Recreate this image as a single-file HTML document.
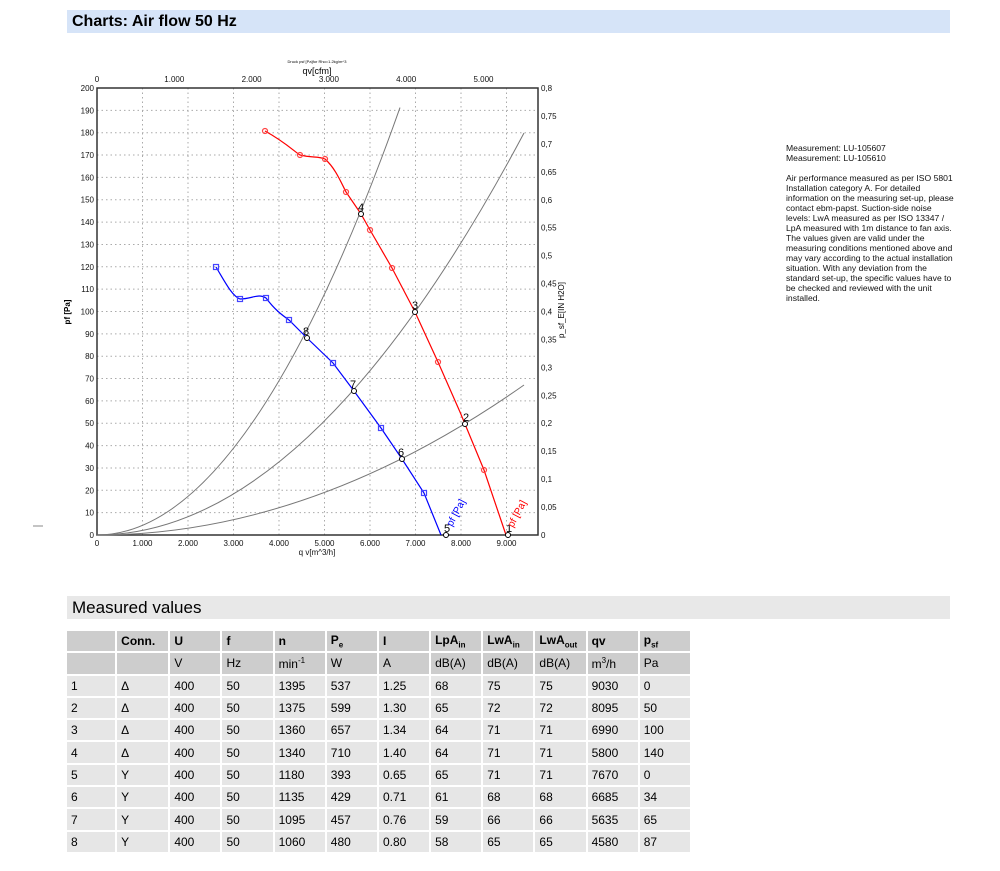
<!DOCTYPE html>
<html><head><meta charset="utf-8"><style>
body{margin:0;background:#fff;width:1000px;height:871px;position:relative;font-family:"Liberation Sans",sans-serif;overflow:hidden}
.bar{position:absolute;left:67px;width:883px;height:23px}
#h1{top:10px;background:#d6e4f8;font-weight:bold;font-size:16px;line-height:23px;padding-left:5px;box-sizing:border-box}
#h2{top:596px;background:#e8e8e8;font-size:17px;line-height:23px;padding-left:5px;box-sizing:border-box}
#note{position:absolute;left:786px;top:143px;font-size:8.6px;line-height:10px;width:172px;color:#111}
table{position:absolute;left:65px;top:629px;width:627px;border-collapse:separate;border-spacing:2px;font-size:12px;table-layout:fixed}
td{height:20.3px;padding:0 0 0 4px;background:#e6e6e6;vertical-align:middle;white-space:nowrap;box-sizing:border-box}
tr.h td{background:#cdcdcd}
tr.b td{font-weight:bold}
sub,sup{font-size:8px}
</style></head><body>
<div id="h1" class="bar">Charts: Air flow 50 Hz</div>
<svg width="1000" height="590" style="position:absolute;left:0;top:0" font-family="Liberation Sans, sans-serif">
<line x1="33" y1="526" x2="43" y2="526" stroke="#888"/>
<text x="317" y="63" font-size="4" text-anchor="middle">Druck psf [Pa]for Rho=1.2kg/m^3</text>
<text x="317" y="74" font-size="9" text-anchor="middle">qv[cfm]</text>
<g stroke="#aaa" stroke-dasharray="1.5,3" stroke-width="1">
<line x1="142.5" y1="88" x2="142.5" y2="535"/><line x1="188" y1="88" x2="188" y2="535"/><line x1="233.5" y1="88" x2="233.5" y2="535"/><line x1="279" y1="88" x2="279" y2="535"/><line x1="324.5" y1="88" x2="324.5" y2="535"/><line x1="370" y1="88" x2="370" y2="535"/><line x1="415.5" y1="88" x2="415.5" y2="535"/><line x1="461" y1="88" x2="461" y2="535"/><line x1="506.5" y1="88" x2="506.5" y2="535"/>
<line x1="97" y1="512.65" x2="538" y2="512.65"/><line x1="97" y1="490.3" x2="538" y2="490.3"/><line x1="97" y1="467.95" x2="538" y2="467.95"/><line x1="97" y1="445.6" x2="538" y2="445.6"/><line x1="97" y1="423.25" x2="538" y2="423.25"/><line x1="97" y1="400.9" x2="538" y2="400.9"/><line x1="97" y1="378.55" x2="538" y2="378.55"/><line x1="97" y1="356.2" x2="538" y2="356.2"/><line x1="97" y1="333.85" x2="538" y2="333.85"/><line x1="97" y1="311.5" x2="538" y2="311.5"/><line x1="97" y1="289.15" x2="538" y2="289.15"/><line x1="97" y1="266.8" x2="538" y2="266.8"/><line x1="97" y1="244.45" x2="538" y2="244.45"/><line x1="97" y1="222.1" x2="538" y2="222.1"/><line x1="97" y1="199.75" x2="538" y2="199.75"/><line x1="97" y1="177.4" x2="538" y2="177.4"/><line x1="97" y1="155.05" x2="538" y2="155.05"/><line x1="97" y1="132.7" x2="538" y2="132.7"/><line x1="97" y1="110.35" x2="538" y2="110.35"/>
</g>
<rect x="97" y="88" width="441" height="447" fill="none" stroke="#333" stroke-width="1.5"/>
<g font-size="8" text-anchor="end" fill="#111">
<text x="94" y="538">0</text><text x="94" y="515.6">10</text><text x="94" y="493.3">20</text><text x="94" y="471">30</text><text x="94" y="448.6">40</text><text x="94" y="426.2">50</text><text x="94" y="403.9">60</text><text x="94" y="381.5">70</text><text x="94" y="359.2">80</text><text x="94" y="336.8">90</text><text x="94" y="314.5">100</text><text x="94" y="292.1">110</text><text x="94" y="269.8">120</text><text x="94" y="247.4">130</text><text x="94" y="225.1">140</text><text x="94" y="202.7">150</text><text x="94" y="180.4">160</text><text x="94" y="158">170</text><text x="94" y="135.7">180</text><text x="94" y="113.3">190</text><text x="94" y="91">200</text>
</g>
<g font-size="8" fill="#111">
<text x="541" y="538">0</text><text x="541" y="510">0,05</text><text x="541" y="482.1">0,1</text><text x="541" y="454.2">0,15</text><text x="541" y="426.2">0,2</text><text x="541" y="398.3">0,25</text><text x="541" y="370.4">0,3</text><text x="541" y="342.4">0,35</text><text x="541" y="314.5">0,4</text><text x="541" y="286.6">0,45</text><text x="541" y="258.6">0,5</text><text x="541" y="230.7">0,55</text><text x="541" y="202.8">0,6</text><text x="541" y="174.8">0,65</text><text x="541" y="146.9">0,7</text><text x="541" y="119">0,75</text><text x="541" y="91">0,8</text>
</g>
<g font-size="8" text-anchor="middle" fill="#111">
<text x="97" y="546">0</text><text x="142.5" y="546">1.000</text><text x="188" y="546">2.000</text><text x="233.5" y="546">3.000</text><text x="279" y="546">4.000</text><text x="324.5" y="546">5.000</text><text x="370" y="546">6.000</text><text x="415.5" y="546">7.000</text><text x="461" y="546">8.000</text><text x="506.5" y="546">9.000</text>
<text x="317" y="555">q v[m^3/h]</text>
<text x="97" y="82">0</text><text x="174.3" y="82">1.000</text><text x="251.6" y="82">2.000</text><text x="328.9" y="82">3.000</text><text x="406.2" y="82">4.000</text><text x="483.5" y="82">5.000</text>
</g>
<text transform="translate(70,312) rotate(-90)" font-size="8" text-anchor="middle" font-weight="bold">pf [Pa]</text>
<text transform="translate(564,310) rotate(-90)" font-size="8" text-anchor="middle">p_sf_E[IN H2O]</text>
<g fill="none" stroke="#777" stroke-width="1">
<path d="M97,535 Q248.5,535 400,107.6"/>
<path d="M97,535 Q310.5,535 524,133"/>
<path d="M97,535 Q310.5,535 524,385"/>
</g>
<path d="M265,131 C285,142 295,152 300,155 C312,158 318,156 325,159 C335,168 340,180 346,192 L361,214 L370,230 L392,268 L415,312 L438,362 L460,412 L484,470 L506,535" fill="none" stroke="#f00" stroke-width="1.2"/>
<path d="M216,267 C225,282 232,296 240,299 C252,299 258,293 266,298 C275,310 282,315 289,320 L307,338 L333,363 L354,391 L381,428 L402,459 L424,493 L441,535" fill="none" stroke="#00f" stroke-width="1.2"/>
<g fill="none" stroke="#f44" stroke-width="1.2">
<circle cx="265" cy="131" r="2.5"/><circle cx="300" cy="155" r="2.5"/><circle cx="325" cy="159" r="2.5"/><circle cx="346" cy="192" r="2.5"/><circle cx="370" cy="230" r="2.5"/><circle cx="392" cy="268" r="2.5"/><circle cx="438" cy="362" r="2.5"/><circle cx="484" cy="470" r="2.5"/>
</g>
<g fill="none" stroke="#44f" stroke-width="1.2">
<rect x="213.5" y="264.5" width="5" height="5"/><rect x="237.5" y="296.5" width="5" height="5"/><rect x="263.5" y="295.5" width="5" height="5"/><rect x="286.5" y="317.5" width="5" height="5"/><rect x="330.5" y="360.5" width="5" height="5"/><rect x="378.5" y="425.5" width="5" height="5"/><rect x="421.5" y="490.5" width="5" height="5"/>
</g>
<g fill="#fff" stroke="#000" stroke-width="1">
<circle cx="361" cy="214" r="2.5"/><circle cx="415" cy="312" r="2.5"/><circle cx="465" cy="424" r="2.5"/><circle cx="508" cy="535" r="2.5"/>
<circle cx="307" cy="338" r="2.5"/><circle cx="354" cy="391" r="2.5"/><circle cx="402" cy="459" r="2.5"/><circle cx="446" cy="535" r="2.5"/>
</g>
<g font-size="11" text-anchor="middle" fill="#000">
<text x="361" y="211">4</text><text x="415" y="309">3</text><text x="466" y="421">2</text><text x="509" y="532">1</text>
<text x="306" y="335">8</text><text x="353" y="388">7</text><text x="401" y="456">6</text><text x="447" y="532">5</text>
</g>
<text transform="translate(452,527) rotate(-62)" font-size="10" fill="#00f">pf [Pa]</text>
<text transform="translate(513,528) rotate(-62)" font-size="10" fill="#f00">pf [Pa]</text>
</svg>
<div id="note">Measurement: LU-105607<br>Measurement: LU-105610<br><br>Air performance measured as per ISO 5801 Installation category A. For detailed information on the measuring set-up, please contact ebm-papst. Suction-side noise levels: LwA measured as per ISO 13347 / LpA measured with 1m distance to fan axis. The values given are valid under the measuring conditions mentioned above and may vary according to the actual installation situation. With any deviation from the standard set-up, the specific values have to be checked and reviewed with the unit installed.</div>
<div id="h2" class="bar">Measured values</div>
<table>
<colgroup><col style="width:48px"><col style="width:51px"><col style="width:50px"><col style="width:50px"><col style="width:50px"><col style="width:50px"><col style="width:50px"><col style="width:50px"><col style="width:50px"><col style="width:50px"><col style="width:50px"><col style="width:50px"></colgroup>
<tr class="h b"><td></td><td>Conn.</td><td>U</td><td>f</td><td>n</td><td>P<sub>e</sub></td><td>I</td><td>LpA<sub>in</sub></td><td>LwA<sub>in</sub></td><td>LwA<sub>out</sub></td><td>qv</td><td>p<sub>sf</sub></td></tr>
<tr class="h"><td></td><td></td><td>V</td><td>Hz</td><td>min<sup>-1</sup></td><td>W</td><td>A</td><td>dB(A)</td><td>dB(A)</td><td>dB(A)</td><td>m<sup>3</sup>/h</td><td>Pa</td></tr>
<tr><td>1</td><td>Δ</td><td>400</td><td>50</td><td>1395</td><td>537</td><td>1.25</td><td>68</td><td>75</td><td>75</td><td>9030</td><td>0</td></tr>
<tr><td>2</td><td>Δ</td><td>400</td><td>50</td><td>1375</td><td>599</td><td>1.30</td><td>65</td><td>72</td><td>72</td><td>8095</td><td>50</td></tr>
<tr><td>3</td><td>Δ</td><td>400</td><td>50</td><td>1360</td><td>657</td><td>1.34</td><td>64</td><td>71</td><td>71</td><td>6990</td><td>100</td></tr>
<tr><td>4</td><td>Δ</td><td>400</td><td>50</td><td>1340</td><td>710</td><td>1.40</td><td>64</td><td>71</td><td>71</td><td>5800</td><td>140</td></tr>
<tr><td>5</td><td>Y</td><td>400</td><td>50</td><td>1180</td><td>393</td><td>0.65</td><td>65</td><td>71</td><td>71</td><td>7670</td><td>0</td></tr>
<tr><td>6</td><td>Y</td><td>400</td><td>50</td><td>1135</td><td>429</td><td>0.71</td><td>61</td><td>68</td><td>68</td><td>6685</td><td>34</td></tr>
<tr><td>7</td><td>Y</td><td>400</td><td>50</td><td>1095</td><td>457</td><td>0.76</td><td>59</td><td>66</td><td>66</td><td>5635</td><td>65</td></tr>
<tr><td>8</td><td>Y</td><td>400</td><td>50</td><td>1060</td><td>480</td><td>0.80</td><td>58</td><td>65</td><td>65</td><td>4580</td><td>87</td></tr>
</table>
</body></html>
